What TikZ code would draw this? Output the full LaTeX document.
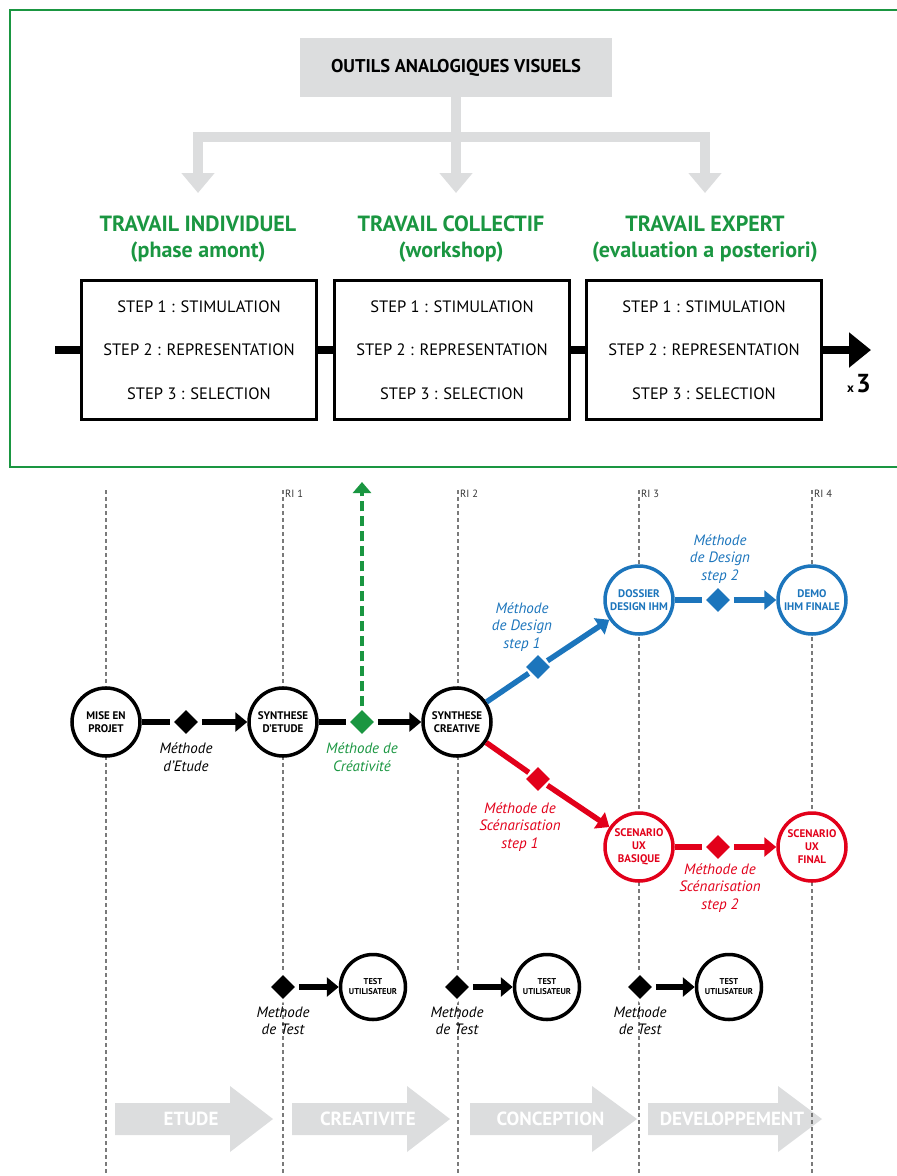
\documentclass[tikz,border=0pt]{standalone}
\usepackage{fontspec}
\setmainfont{PT Sans}
\usetikzlibrary{arrows.meta,positioning,shapes.geometric}
\definecolor{Vert}{HTML}{1A9641}
\definecolor{Bleu}{HTML}{1C75BC}
\definecolor{Rouge}{HTML}{E2001A}
\definecolor{Gris}{HTML}{DCDDDE}
\definecolor{Trame}{HTML}{7A7A7A}
\newcommand{\taille}[2]{\fontsize{#1}{#2}\selectfont}

\begin{document}
\begin{tikzpicture}[x=1pt,y=-1pt,>=Latex,
    etape/.style={circle,draw,fill=white,line width=3.5pt,minimum size=68pt,inner sep=0pt,align=center,font=\bfseries\taille{11}{13}},
    petite/.style={minimum size=65pt,font=\bfseries\taille{8.5}{10}},
    bleue/.style={draw=Bleu,text=Bleu},
    rouge/.style={draw=Rouge,text=Rouge},
    losange/.style={diamond,fill=black,draw=white,line width=2.5pt,minimum size=29pt,inner sep=0pt},
    trait/.style={line width=5.5pt},
    lien/.style={trait,-{Triangle[length=12pt,width=19pt]}},
    methode/.style={align=center,font=\itshape\taille{15}{17.5}},
    stepbox/.style={draw,line width=3pt,minimum width=235pt,minimum height=139pt,align=center,font=\taille{16.5}{43.5}},
    titre/.style={align=center,text=Vert,font=\bfseries\taille{22}{26}},
    gristrait/.style={Gris,line width=10pt},
    grisfleche/.style={gristrait,-{Triangle[length=20pt,width=32pt]}},
    pointille/.style={Trame,line width=1.1pt,dash pattern=on 4pt off 3pt},
    ri/.style={anchor=west,inner sep=1pt,text=black!80,font=\taille{10.5}{10.5}}]
  \useasboundingbox (0,0) rectangle (897,1176);

  % partie haute
  \draw[Vert,line width=1.8pt] (10,10) rectangle (910,467);
  \node[fill=Gris,minimum width=312pt,minimum height=59pt,font=\bfseries\taille{18.5}{20}] (outils) at (456,67.5) {OUTILS ANALOGIQUES VISUELS};
  \coordinate (fourche) at (456,137);
  \coordinate (pointe1) at (198,193);
  \coordinate (pointe2) at (456,193);
  \coordinate (pointe3) at (705,193);
  \draw[gristrait] (outils.south) -- (fourche);
  \draw[grisfleche] (fourche) -| (pointe1);
  \draw[grisfleche] (fourche) -- (pointe2);
  \draw[grisfleche] (fourche) -| (pointe3);

  \node[titre] (titre1) at (198,239) {TRAVAIL INDIVIDUEL\\(phase amont)};
  \node[titre] (titre2) at (451,239) {TRAVAIL COLLECTIF\\(workshop)};
  \node[titre] (titre3) at (705,239) {TRAVAIL EXPERT\\(evaluation a posteriori)};

  \node[stepbox] (bloc1) at (199,350) {STEP 1 : STIMULATION\\STEP 2 : REPRESENTATION\\STEP 3 : SELECTION};
  \node[stepbox] (bloc2) at (452,350) {STEP 1 : STIMULATION\\STEP 2 : REPRESENTATION\\STEP 3 : SELECTION};
  \node[stepbox] (bloc3) at (704,350) {STEP 1 : STIMULATION\\STEP 2 : REPRESENTATION\\STEP 3 : SELECTION};
  \coordinate (debut) at (55,350);
  \coordinate (fin) at (871,350);
  \draw[line width=8pt] (debut) -- (bloc1);
  \draw[line width=8pt] (bloc1) -- (bloc2);
  \draw[line width=8pt] (bloc2) -- (bloc3);
  \draw[line width=8pt,-{Triangle[length=22pt,width=34pt]}] (bloc3) -- (fin);
  \node[font=\bfseries] (fois) at (859,384) {\taille{13}{13}x\,\taille{26}{26}3};

  % phases
  \foreach \a/\b/\c/\nom in {115/230/273/ETUDE,292/407/450/CREATIVITE,470/592/637/CONCEPTION,648/778/822/DEVELOPPEMENT}{
    \fill[Gris] (\a,1103) -- (\b,1103) -- (\b,1086) -- (\c,1119) -- (\b,1152) -- (\b,1135) -- (\a,1135) -- cycle;
    \node[text=white,font=\bfseries\taille{19}{19}] (phase\nom) at ({(\a+\c)/2-3},1119) {\nom};
  }

  % jalons
  \foreach \x in {106,283,458,639,812}
    \draw[pointille] (\x,490) -- (\x,1176);
  \node[ri] (ri1) at (284,494) {RI 1};
  \node[ri] (ri2) at (459,494) {RI 2};
  \node[ri] (ri3) at (640,494) {RI 3};
  \node[ri] (ri4) at (813,494) {RI 4};

  \node[etape] (projet) at (106,722) {MISE EN\\PROJET};
  \node[etape] (etude) at (283,722) {SYNTHESE\\D’ETUDE};
  \node[etape] (creative) at (457,722) {SYNTHESE\\CREATIVE};
  \node[etape,bleue] (dossier) at (639,600) {DOSSIER\\DESIGN IHM};
  \node[etape,bleue] (demo) at (812,600) {DEMO\\IHM FINALE};
  \node[etape,rouge] (basique) at (639,847) {SCENARIO\\UX\\BASIQUE};
  \node[etape,rouge] (final) at (812,847) {SCENARIO\\UX\\FINAL};

  \node[losange] (metude) at (186,722) {};
  \node[losange,fill=Vert] (mcrea) at (362,722) {};
  \node[losange,fill=Bleu] (mdesign1) at (538,667) {};
  \node[losange,fill=Bleu] (mdesign2) at (718,600) {};
  \node[losange,fill=Rouge] (mscen1) at (538,779) {};
  \node[losange,fill=Rouge] (mscen2) at (718,847) {};

  \draw[trait] (projet) -- (metude);
  \draw[lien] (metude) -- (etude);
  \draw[trait] (etude) -- (mcrea);
  \draw[lien] (mcrea) -- (creative);
  \coordinate (haut) at (362,482);
  \draw[Vert,line width=4pt,dash pattern=on 10pt off 5pt,-{Triangle[length=11pt,width=18pt]}] (mcrea) -- (haut);
  \draw[trait,Bleu] (creative) -- (mdesign1);
  \draw[lien,Bleu] (mdesign1) -- (dossier);
  \draw[trait,Bleu] (dossier) -- (mdesign2);
  \draw[lien,Bleu] (mdesign2) -- (demo);
  \draw[trait,Rouge] (creative) -- (mscen1);
  \draw[lien,Rouge] (mscen1) -- (basique);
  \draw[trait,Rouge] (basique) -- (mscen2);
  \draw[lien,Rouge] (mscen2) -- (final);

  \node[methode] (lmetude) at (186,757) {Méthode\\d’Etude};
  \node[methode,text=Vert] (lmcrea) at (362,757) {Méthode de\\Créativité};
  \node[methode,text=Bleu] (ldesign1) at (522,627) {Méthode\\de Design\\step 1};
  \node[methode,text=Bleu] (ldesign2) at (720,559) {Méthode\\de Design\\step 2};
  \node[methode,text=Rouge] (lscen1) at (520,827) {Méthode de\\Scénarisation\\step 1};
  \node[methode,text=Rouge] (lscen2) at (720,888) {Méthode de\\Scénarisation\\step 2};

  % tests
  \foreach \d/\c/\i in {283/373/1,457/547/2,640/729/3}{
    \node[losange] (test\i) at (\d,987) {};
    \node[etape,petite] (util\i) at (\c,987) {TEST\\UTILISATEUR};
    \draw[lien] (test\i) -- (util\i);
    \node[methode] (ltest\i) at (\d,1021) {Methode\\de Test};
  }
\end{tikzpicture}
\end{document}
